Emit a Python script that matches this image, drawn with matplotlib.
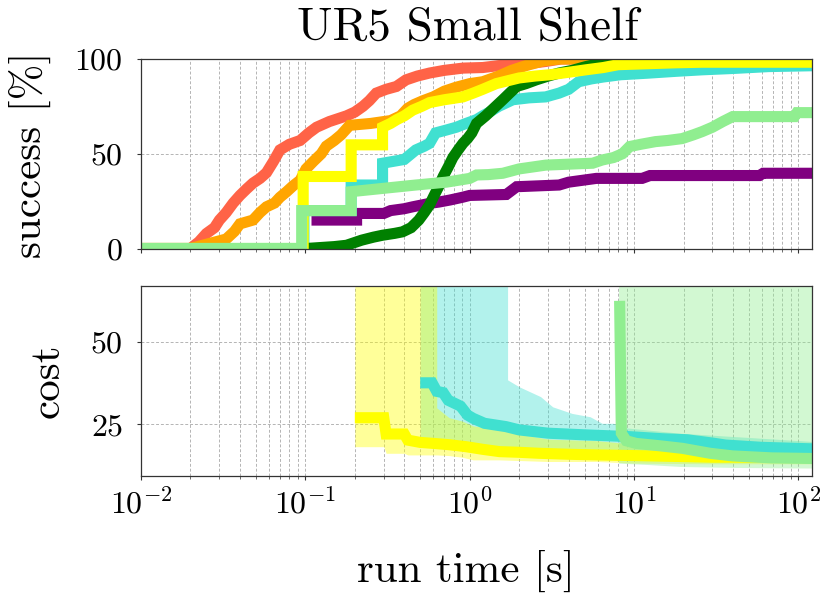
import numpy as np
import matplotlib
matplotlib.use('Agg')
import matplotlib.pyplot as plt
from matplotlib.ticker import LogLocator, NullFormatter, FixedLocator

plt.rcParams['font.family'] = ['cmr10', 'DejaVu Serif']
plt.rcParams['mathtext.fontset'] = 'cm'
plt.rcParams['axes.formatter.use_mathtext'] = True

# ---------------- data: success [%] over run time [s] (curve vertices) ----------------
t_tomato = [0.01, 0.020, 0.0225, 0.025, 0.028, 0.030, 0.033, 0.0364, 0.040, 0.044, 0.048, 0.053,
            0.058, 0.064, 0.070, 0.080, 0.093, 0.105, 0.117, 0.14, 0.178, 0.20, 0.224, 0.245,
            0.27, 0.31, 0.358, 0.41, 0.48, 0.57, 0.70, 0.91, 1.2, 1.5, 2.0, 2.5, 2.9, 3.6, 130]
s_tomato = [0, 0, 3.5, 7.9, 11, 15, 19, 24, 28, 31.5, 34.5, 37, 40, 46, 52, 55, 57, 61, 64,
            67, 70, 72, 75, 78, 82, 84, 85.5, 89, 91, 92.6, 94, 95.2, 95.5, 96.5, 97, 98, 98.7,
            100, 100]

t_orange = [0.01, 0.020, 0.027, 0.033, 0.037, 0.040, 0.048, 0.053, 0.058, 0.065, 0.070, 0.077,
            0.084, 0.093, 0.101, 0.112, 0.125, 0.134, 0.150, 0.165, 0.186, 0.25, 0.33, 0.38,
            0.42, 0.46, 0.52, 0.60, 0.70, 0.82, 1.0, 1.2, 1.5, 1.8, 2.2, 2.8, 3.5, 130]
s_orange = [0, 0, 3, 5, 9, 13, 15, 19, 22, 24, 27, 30, 33, 36, 42, 46, 50, 54, 57, 60, 65,
            66, 67.5, 70, 74, 76, 78, 80, 83, 85, 87, 88, 91, 94, 96.5, 99, 100, 100]

t_yellow = [0.01, 0.097, 0.097, 0.19, 0.19, 0.295, 0.295, 0.33, 0.36, 0.40, 0.45, 0.51, 0.57,
            0.70, 0.91, 1.05, 1.2, 1.45, 1.7, 2.0, 2.5, 3.1, 4.0, 5.1, 6.5, 8.0, 12, 18, 26, 130]
s_yellow = [0, 0, 38, 38, 54.7, 54.7, 64, 66, 68, 70, 73, 75, 77, 78.5, 80, 82, 84, 87, 88.5,
            90, 91, 91.7, 93, 94.3, 95.5, 97, 97.5, 98, 98.3, 98.3]

t_turq = [0.01, 0.098, 0.098, 0.19, 0.19, 0.295, 0.295, 0.40, 0.47, 0.53, 0.57, 0.62, 0.72,
          0.83, 0.95, 1.1, 1.2, 1.32, 1.5, 1.83, 2.3, 2.9, 3.5, 4.0, 4.6, 5.5, 6.5, 8.3, 12, 18,
          26, 40, 66, 130]
s_turq = [0, 0, 20, 20, 33.5, 33.5, 45, 47, 52, 54, 55.5, 61, 62.5, 64, 66, 68, 70, 72, 75,
          78.5, 79.5, 80, 82, 84, 88, 89.5, 90.5, 91.7, 92.5, 93.5, 94.3, 95, 96, 96.5]

t_green = [0.101, 0.15, 0.178, 0.22, 0.26, 0.295, 0.35, 0.39, 0.44, 0.49, 0.53, 0.57, 0.60,
           0.65, 0.69, 0.74, 0.79, 0.85, 0.91, 0.97, 1.03, 1.1, 1.25, 1.4, 1.59, 1.75, 1.93,
           2.2, 2.54, 3.0, 3.5, 4.2, 5.1, 6.5, 8.0, 130]
s_green = [0, 1, 1.7, 4.4, 6, 7, 8, 8.8, 11, 15, 19, 23, 27, 33, 38, 43, 48, 52, 55.5, 58, 61,
           66, 70, 74, 78.5, 82, 85.5, 87, 89, 91, 92.6, 94, 96, 98, 99.5, 100]

t_lgreen = [0.01, 0.095, 0.095, 0.19, 0.19, 0.295, 0.47, 0.72, 0.85, 1.0, 1.1, 1.3, 1.59, 2.0,
            2.9, 4.0, 5.6, 6.4, 7.5, 8.5, 9.4, 11, 13.5, 16, 19.6, 23, 26, 30, 34.7, 39.8, 94.6,
            98, 130]
s_lgreen = [0, 0, 20, 20, 30, 31.7, 33.5, 35, 36, 37, 38.8, 39, 39.7, 42, 44, 44.5, 45, 46.7,
            48, 50, 53.8, 55, 56.4, 57, 58, 60, 61.7, 64, 67, 69.6, 69.6, 71.7, 71.7]

t_purple = [0.109, 0.205, 0.205, 0.30, 0.33, 0.40, 0.45, 0.57, 0.65, 0.76, 0.9, 1.0, 1.67, 1.93,
            3.5, 4.0, 5.9, 11.2, 12.5, 58, 61, 130]
s_purple = [15, 15, 18.5, 18.5, 20, 21, 22, 23.8, 24.5, 25.6, 27, 28, 28.5, 32.6, 33.5, 35, 37,
            37, 38.5, 38.5, 39.7, 39.7]

# ---------------- data: cost over run time [s] ----------------
tc_yellow = [0.20, 0.30, 0.31, 0.40, 0.42, 0.50, 0.60, 0.75, 0.95, 1.2, 1.52, 2.0, 2.63, 4.0,
             5.9, 10, 19.8, 30, 50, 80, 130]
c_yellow = [27.0, 27.0, 22.05, 22.05, 20.2, 19.5, 19.2, 18.8, 18.2, 17.4, 16.7, 16.5, 16.2,
            15.9, 15.7, 15.5, 15.2, 15.0, 15.0, 15.4, 15.5]
tb_yellow = [0.20, 0.30, 0.31, 0.40, 0.42, 0.63, 0.63, 0.75, 0.9, 1.05, 1.5, 2.0, 3.0, 6.0, 10,
             30, 130]
lo_yellow = [18.2, 18.2, 16.2, 16.2, 15.7, 15.7, 15.7, 15.5, 15.0, 14.2, 14.2, 14.0, 13.7, 13.7,
             13.2, 13.0, 13.0]
hi_yellow = [70, 70, 70, 70, 70, 70, 30.0, 27.0, 26.0, 24.5, 23.5, 22.0, 20.5, 20.0, 19.0, 17.5,
             17.0]

tc_turq = [0.50, 0.59, 0.63, 0.69, 0.74, 0.80, 0.88, 0.97, 1.05, 1.23, 1.66, 2.0, 3.0, 5.0, 9.0,
           15, 21, 30, 36, 60, 130]
c_turq = [37.6, 37.6, 35.0, 34.6, 32.3, 31.5, 30.5, 27.8, 26.8, 25.3, 24.3, 23.3, 22.3, 21.8,
          21.3, 20.6, 20.3, 19.3, 18.7, 18.0, 17.5]
tb_turq = [0.50, 1.0, 1.5, 1.70, 1.70, 2.0, 2.7, 3.2, 4.2, 5.4, 6.4, 7.5, 9.0, 19, 50, 130]
lo_turq = [19.5, 18.2, 16.8, 16.7, 16.7, 16.5, 16.2, 16.0, 15.9, 15.7, 15.7, 15.6, 15.5, 15.2,
           15.2, 15.5]
hi_turq = [70, 70, 70, 70, 38.5, 36.4, 33.4, 30.3, 28.3, 27.3, 25.3, 25.3, 23.9, 22.3, 21.0,
           19.7]

tc_lgreen = [8.17, 8.37, 8.97, 10.3, 14.2, 19.7, 29, 39.8, 69, 130]
c_lgreen = [62.5, 22.3, 20.0, 19.2, 18.5, 17.7, 16.2, 15.4, 14.8, 14.6]
tb_lgreen = [8.05, 12, 19, 40, 130]
lo_lgreen = [13.2, 12.8, 12.2, 11.9, 11.7]
hi_lgreen = [70, 70, 70, 70, 70]

C_TOMATO, C_ORANGE, C_YELLOW = '#FF6347', '#FFA500', '#FFFF00'
C_TURQ, C_GREEN, C_LGREEN, C_PURPLE = '#40E0D0', '#008000', '#90EE90', '#800080'

LW = 8
W, H = 830, 597
fig = plt.figure(figsize=(W / 100, H / 100), dpi=100)
ax1 = fig.add_axes([141 / W, 1 - 248.5 / H, 671 / W, 189.5 / H])
ax2 = fig.add_axes([141 / W, 1 - 476 / H, 671 / W, 190 / H], sharex=ax1)

for t, s, c in [(t_tomato, s_tomato, C_TOMATO), (t_orange, s_orange, C_ORANGE),
                (t_purple, s_purple, C_PURPLE), (t_turq, s_turq, C_TURQ),
                (t_green, s_green, C_GREEN), (t_yellow, s_yellow, C_YELLOW),
                (t_lgreen, s_lgreen, C_LGREEN)]:
    ax1.plot(t, s, color=c, lw=LW, solid_joinstyle='miter', solid_capstyle='butt')

ax2.fill_between(tb_turq, lo_turq, hi_turq, color=C_TURQ, alpha=0.4, lw=0)
ax2.fill_between(tb_yellow, lo_yellow, hi_yellow, color=C_YELLOW, alpha=0.4, lw=0)
ax2.fill_between(tb_lgreen, lo_lgreen, hi_lgreen, color=C_LGREEN, alpha=0.4, lw=0)
for t, c, col in [(tc_yellow, c_yellow, C_YELLOW), (tc_turq, c_turq, C_TURQ),
                  (tc_lgreen, c_lgreen, C_LGREEN)]:
    ax2.plot(t, c, color=col, lw=LW, solid_joinstyle='miter', solid_capstyle='butt')

ax1.set_xscale('log')
ax1.set_xlim(0.01, 121)
ax1.set_ylim(0, 100)
ax2.set_ylim(9.3, 67)
ax1.yaxis.set_major_locator(FixedLocator([0, 50, 100]))
ax2.yaxis.set_major_locator(FixedLocator([25, 50]))
ax1.xaxis.set_major_locator(LogLocator(base=10, numticks=10))
ax1.xaxis.set_minor_locator(LogLocator(base=10, subs=np.arange(2, 10), numticks=20))
ax1.xaxis.set_minor_formatter(NullFormatter())
plt.setp(ax1.get_xticklabels(), visible=False)

for ax in (ax1, ax2):
    ax.grid(True, which='major', axis='both', color='#b4b4b4', linestyle=(0, (3, 2)), lw=0.7)
    ax.grid(True, which='minor', axis='x', color='#b4b4b4', linestyle=(0, (3, 2)), lw=0.7)
    ax.set_axisbelow(True)
    for sp in ax.spines.values():
        sp.set_color('#333333')
        sp.set_linewidth(0.9)
    ax.tick_params(axis='both', which='major', labelsize=23, length=3, width=0.8,
                   color='#333333')
    ax.tick_params(axis='y', which='major', pad=10)
    ax.tick_params(axis='x', which='major', pad=5)
    ax.tick_params(axis='x', which='minor', length=2, width=0.6, color='#555555')

fig.text(468 / W, 1 - 40 / H, 'UR5 Small Shelf', fontsize=34, ha='center', va='baseline')
fig.text(30 / W, 1 - 155 / H, 'success [%]', fontsize=31, rotation=90, ha='center',
         va='center')
fig.text(48 / W, 1 - 381 / H, 'cost', fontsize=31, rotation=90, ha='center', va='center')
fig.text(466 / W, 1 - 582 / H, 'run time [s]', fontsize=31, ha='center', va='baseline')

fig.savefig('out.png', dpi=100)
